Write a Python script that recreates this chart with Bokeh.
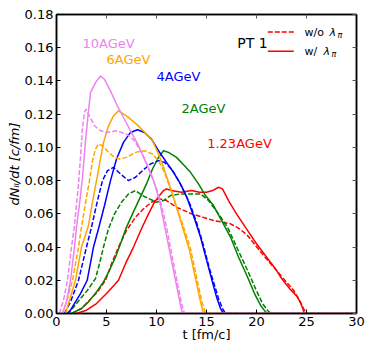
import math
from bokeh.plotting import figure
from bokeh.models import Range1d, LinearAxis, FixedTicker, NumeralTickFormatter
from bokeh.core.properties import value
from bokeh.embed import file_html
from bokeh.resources import INLINE

# ---------------- data ----------------
x_ticks = [0, 5, 10, 15, 20, 25, 30]
x_tick_labels = ["0", "5", "10", "15", "20", "25", "30"]
y_ticks = [0.0, 0.02, 0.04, 0.06, 0.08, 0.10, 0.12, 0.14, 0.16, 0.18]
y_tick_labels = ["0.00", "0.02", "0.04", "0.06", "0.08", "0.10", "0.12", "0.14", "0.16", "0.18"]

# 10 AGeV
t_10_wo = [0.3, 0.7, 1.1, 1.5, 1.8, 2.2, 2.4, 2.6, 2.8, 2.95, 3.3, 3.8, 4.4, 5.0, 6.0, 7.0, 7.8, 8.6, 9.4, 10.3, 11.0, 11.8, 12.5, 12.8, 30]
v_10_wo = [0, 0.008, 0.02, 0.04, 0.053, 0.078, 0.094, 0.112, 0.121, 0.123, 0.119, 0.113, 0.110, 0.109, 0.110, 0.108, 0.104, 0.096, 0.085, 0.070, 0.052, 0.027, 0.006, 0, 0]
t_10_w = [0.6, 1.0, 1.4, 1.8, 2.0, 2.3, 2.6, 2.9, 3.2, 3.4, 3.9, 4.4, 4.8, 5.4, 6.0, 6.7, 7.4, 8.2, 9.0, 9.7, 10.3, 10.9, 11.5, 12.0, 12.4, 12.6, 30]
v_10_w = [0, 0.007, 0.02, 0.04, 0.052, 0.066, 0.082, 0.104, 0.122, 0.133, 0.139, 0.143, 0.141, 0.134, 0.126, 0.118, 0.110, 0.101, 0.090, 0.080, 0.068, 0.050, 0.032, 0.017, 0.005, 0, 0]

# 6 AGeV
t_6_wo = [0.6, 1.0, 1.6, 2.2, 2.5, 3.0, 3.3, 3.6, 3.9, 4.2, 4.6, 5.2, 5.8, 6.3, 7.0, 7.9, 8.8, 9.6, 10.2, 10.8, 11.4, 11.9, 12.6, 13.4, 14.0, 14.5, 14.9, 30]
v_6_wo = [0, 0.007, 0.02, 0.04, 0.052, 0.070, 0.080, 0.092, 0.099, 0.102, 0.101, 0.097, 0.094, 0.093, 0.094, 0.097, 0.098, 0.096, 0.092, 0.085, 0.075, 0.066, 0.054, 0.039, 0.022, 0.008, 0, 0]
t_6_w = [0.9, 1.3, 1.9, 2.5, 3.2, 3.6, 4.0, 4.7, 5.2, 5.7, 6.2, 7.0, 8.0, 9.0, 9.6, 10.2, 10.7, 11.2, 11.8, 12.5, 13.3, 13.9, 14.4, 14.7, 30]
v_6_w = [0, 0.008, 0.02, 0.04, 0.053, 0.067, 0.080, 0.103, 0.113, 0.119, 0.122, 0.119, 0.114, 0.108, 0.104, 0.096, 0.088, 0.079, 0.068, 0.054, 0.038, 0.021, 0.007, 0, 0]

# 4 AGeV
t_4_wo = [0.8, 1.4, 2.2, 3.0, 3.5, 4.1, 4.6, 5.1, 5.7, 6.4, 7.2, 7.9, 8.6, 9.4, 10.2, 10.8, 11.5, 12.2, 12.8, 13.4, 14.0, 14.6, 15.3, 15.7, 16.2, 16.6, 16.9, 30]
v_4_wo = [0, 0.007, 0.02, 0.04, 0.052, 0.068, 0.080, 0.086, 0.088, 0.084, 0.080, 0.082, 0.086, 0.090, 0.092, 0.091, 0.087, 0.080, 0.073, 0.065, 0.055, 0.043, 0.027, 0.019, 0.009, 0.003, 0, 0]
t_4_w = [1.2, 1.7, 2.4, 3.07, 3.7, 4.2, 4.8, 5.4, 6.0, 6.7, 7.4, 8.1, 8.8, 9.5, 10.2, 11.0, 11.7, 12.4, 13.1, 13.8, 14.4, 15.1, 15.5, 16.0, 16.4, 16.7, 30]
v_4_w = [0, 0.005, 0.012, 0.02, 0.04, 0.051, 0.065, 0.080, 0.093, 0.103, 0.109, 0.1106, 0.109, 0.105, 0.098, 0.091, 0.085, 0.078, 0.069, 0.057, 0.046, 0.030, 0.021, 0.010, 0.003, 0, 0]

# 2 AGeV
t_2_wo = [1.0, 1.6, 2.4, 3.1, 3.9, 4.3, 4.7, 5.2, 5.8, 6.5, 7.2, 7.9, 8.6, 9.3, 10.0, 10.7, 11.4, 12.4, 13.5, 14.4, 15.2, 16.2, 17.1, 18.1, 19.1, 19.9, 20.6, 21.1, 21.4, 30]
v_2_wo = [0, 0.003, 0.009, 0.014, 0.021, 0.030, 0.040, 0.051, 0.060, 0.067, 0.072, 0.074, 0.071, 0.069, 0.067, 0.068, 0.071, 0.072, 0.072, 0.072, 0.068, 0.060, 0.052, 0.039, 0.026, 0.015, 0.006, 0.002, 0, 0]
t_2_w = [1.5, 2.5, 3.2, 4.0, 4.7, 5.3, 5.9, 6.4, 7.0, 7.6, 8.3, 9.0, 9.6, 10.2, 10.7, 11.2, 12.0, 12.8, 13.4, 14.2, 14.9, 15.7, 16.5, 17.4, 18.2, 19.1, 19.8, 20.4, 20.9, 21.2, 30]
v_2_w = [0, 0.003, 0.007, 0.013, 0.019, 0.026, 0.034, 0.042, 0.052, 0.060, 0.069, 0.078, 0.087, 0.094, 0.098, 0.097, 0.094, 0.089, 0.085, 0.078, 0.071, 0.065, 0.056, 0.046, 0.034, 0.022, 0.012, 0.005, 0.001, 0, 0]

# 1.23 AGeV
t_123_wo = [1.5, 2.5, 3.3, 4.1, 4.9, 5.5, 6.2, 7.0, 7.9, 8.7, 9.5, 10.3, 11.0, 12.0, 12.4, 13.5, 14.6, 15.7, 16.6, 17.4, 18.3, 19.1, 19.9, 20.7, 21.7, 22.7, 23.7, 24.3, 24.7, 25.0, 30]
v_123_wo = [0, 0.003, 0.008, 0.013, 0.020, 0.030, 0.040, 0.050, 0.058, 0.063, 0.067, 0.069, 0.068, 0.064, 0.063, 0.060, 0.058, 0.056, 0.055, 0.054, 0.051, 0.047, 0.041, 0.035, 0.028, 0.021, 0.014, 0.008, 0.003, 0, 0]
t_123_w = [2.0, 3.0, 4.0, 5.0, 5.6, 6.2, 6.9, 7.7, 8.5, 9.2, 9.8, 10.3, 10.7, 11.0, 11.5, 12.5, 13.5, 14.3, 15.0, 15.6, 16.2, 16.6, 17.2, 18.0, 19.1, 20.0, 21.0, 22.0, 22.4, 23.3, 24.1, 24.5, 24.8, 30]
v_123_w = [0, 0.002, 0.006, 0.012, 0.016, 0.020, 0.030, 0.040, 0.051, 0.060, 0.067, 0.071, 0.074, 0.075, 0.074, 0.073, 0.074, 0.073, 0.073, 0.074, 0.076, 0.075, 0.068, 0.060, 0.050, 0.042, 0.034, 0.026, 0.022, 0.015, 0.010, 0.005, 0, 0]

series = [
    ("red", t_123_wo, v_123_wo, t_123_w, v_123_w),
    ("green", t_2_wo, v_2_wo, t_2_w, v_2_w),
    ("blue", t_4_wo, v_4_wo, t_4_w, v_4_w),
    ("orange", t_6_wo, v_6_wo, t_6_w, v_6_w),
    ("violet", t_10_wo, v_10_wo, t_10_w, v_10_w),
]

energy_labels = ["10AGeV", "6AGeV", "4AGeV", "2AGeV", "1.23AGeV"]
energy_colors = ["violet", "orange", "blue", "green", "red"]

x_title = "t [fm/c]"
y_title = "dNₗₗ/dt [c/fm]"

# ---------------- figure ----------------
FONT = "DejaVu Sans"
p = figure(width=365, height=344, output_backend="svg", toolbar_location=None,
           x_range=Range1d(0, 30), y_range=Range1d(0, 0.18),
           min_border_left=56, min_border_right=9, min_border_top=14, min_border_bottom=31)
p.grid.visible = False
p.outline_line_color = "black"
p.outline_line_width = 1.5
p.background_fill_color = "white"
p.border_fill_color = "white"

p.xaxis.ticker = FixedTicker(ticks=x_ticks)
p.xaxis.major_label_overrides = dict(zip(x_ticks, x_tick_labels))
p.yaxis.ticker = FixedTicker(ticks=y_ticks)
p.yaxis.formatter = NumeralTickFormatter(format="0.00")
p.yaxis.major_label_overrides = dict(zip(y_ticks, y_tick_labels))
for ax in (p.xaxis[0], p.yaxis[0]):
    ax.major_tick_in = 4
    ax.major_tick_out = 0
    ax.minor_tick_in = 0
    ax.minor_tick_out = 0
    ax.axis_line_color = "black"
    ax.axis_line_width = 1.5
    ax.major_tick_line_color = "black"
    ax.major_label_text_font = FONT
    ax.major_label_text_font_size = "13px"
    ax.major_label_text_color = "black"
    ax.major_label_standoff = 3
    ax.axis_label_text_font = FONT
    ax.axis_label_text_font_size = "13px"
    ax.axis_label_text_color = "black"

p.xaxis.axis_label = x_title
p.xaxis.axis_label_text_font_style = "normal"
p.xaxis.axis_label_standoff = -2
p.yaxis.axis_label = y_title
p.yaxis.axis_label_text_font_style = "italic"
p.yaxis.axis_label_standoff = 0

top = LinearAxis(ticker=FixedTicker(ticks=x_ticks),
                 major_label_overrides={t: "" for t in x_ticks},
                 major_label_text_font_size="0px", major_label_standoff=0,
                 major_tick_in=4, major_tick_out=0, minor_tick_in=0, minor_tick_out=0,
                 axis_line_color="black", axis_line_width=1.5, major_tick_line_color="#555555")
right = LinearAxis(ticker=FixedTicker(ticks=y_ticks),
                   major_label_overrides={t: "" for t in y_ticks},
                   major_label_text_font_size="0px", major_label_standoff=0,
                   major_tick_in=4, major_tick_out=0, minor_tick_in=0, minor_tick_out=0,
                   axis_line_color="black", axis_line_width=1.5, major_tick_line_color="#555555")
p.add_layout(top, "above")
p.add_layout(right, "right")

DASH = "5 2"
for color, tw, vw, ts, vs in series:
    p.line(tw, vw, line_color=color, line_width=1.5, line_dash=DASH)
    p.line(ts, vs, line_color=color, line_width=1.5)

# energy labels
lab_x = [2.6, 5.0, 10.0, 12.5, 15.07]
lab_y = [0.1627, 0.1527, 0.1427, 0.1234, 0.1025]
p.text(x=lab_x, y=lab_y, text=energy_labels, text_color=energy_colors,
       text_font=value(FONT), text_font_size="13px",
       text_baseline="middle", text_align="left")

p.text(x=[18.07], y=[0.163], text=["PT 1"], text_color="black",
       text_font=value(FONT), text_font_size="14px",
       text_baseline="middle", text_align="left")

# legend (manual)
leg_y = [0.1694, 0.1579]
p.segment(x0=[21.13], y0=[leg_y[0]], x1=[23.73], y1=[leg_y[0]], line_color="red", line_width=1.5, line_dash=DASH)
p.segment(x0=[21.13], y0=[leg_y[1]], x1=[23.73], y1=[leg_y[1]], line_color="red", line_width=1.5)
for yy, txt, lam_off, pi_off in [(leg_y[0], "w/o", 25, 33), (leg_y[1], "w/", 19, 27)]:
    p.text(x=[24.8], y=[yy], text=[txt], text_color="black", text_font=value(FONT),
           text_font_size="11px", text_baseline="middle", text_align="left")
    p.text(x=[24.8], y=[yy], text=["λ"], x_offset=lam_off, text_color="black", text_font=value(FONT),
           text_font_size="11px", text_font_style="italic", text_baseline="middle", text_align="left")
    p.text(x=[24.8], y=[yy], text=["π"], x_offset=pi_off, y_offset=3, text_color="black", text_font=value(FONT),
           text_font_size="8px", text_font_style="italic", text_baseline="middle", text_align="left")

open("out.html", "w").write(file_html(p, INLINE))
